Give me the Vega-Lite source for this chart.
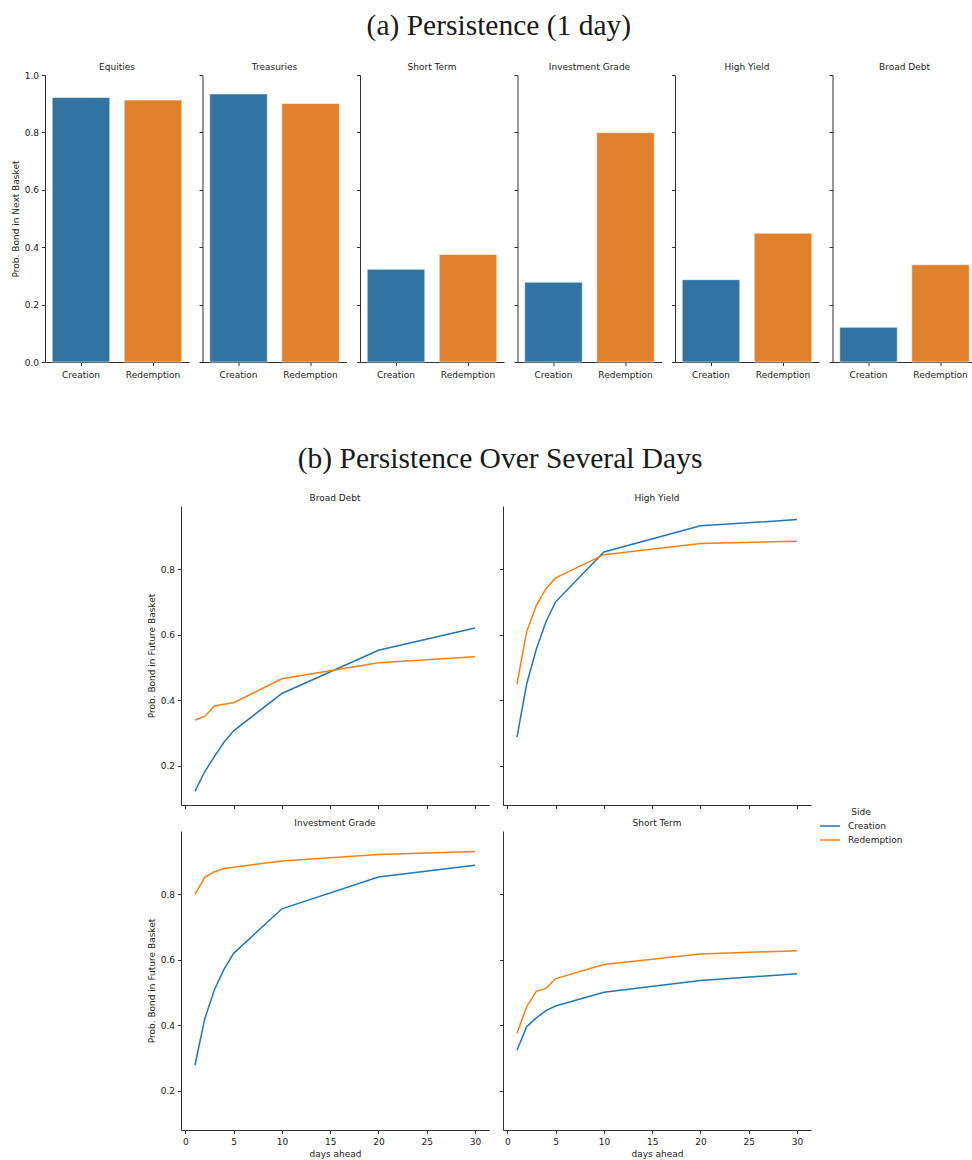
{
  "$schema": "https://vega.github.io/schema/vega-lite/v6.json",
  "padding": {"left": 11, "top": 11, "right": 0, "bottom": 0},
  "background": "white",
  "datasets": {
    "bars": [
      {"Category": "Equities", "Side": "Creation", "prob": 0.922},
      {"Category": "Equities", "Side": "Redemption", "prob": 0.913},
      {"Category": "Treasuries", "Side": "Creation", "prob": 0.934},
      {"Category": "Treasuries", "Side": "Redemption", "prob": 0.901},
      {"Category": "Short Term", "Side": "Creation", "prob": 0.323},
      {"Category": "Short Term", "Side": "Redemption", "prob": 0.375},
      {"Category": "Investment Grade", "Side": "Creation", "prob": 0.278},
      {"Category": "Investment Grade", "Side": "Redemption", "prob": 0.799},
      {"Category": "High Yield", "Side": "Creation", "prob": 0.287},
      {"Category": "High Yield", "Side": "Redemption", "prob": 0.449},
      {"Category": "Broad Debt", "Side": "Creation", "prob": 0.121},
      {"Category": "Broad Debt", "Side": "Redemption", "prob": 0.339}
    ],
    "lines": [
      {"Category": "Broad Debt", "Side": "Creation", "days": 1, "prob": 0.121},
      {"Category": "Broad Debt", "Side": "Creation", "days": 2, "prob": 0.181},
      {"Category": "Broad Debt", "Side": "Creation", "days": 3, "prob": 0.227},
      {"Category": "Broad Debt", "Side": "Creation", "days": 4, "prob": 0.271},
      {"Category": "Broad Debt", "Side": "Creation", "days": 5, "prob": 0.306},
      {"Category": "Broad Debt", "Side": "Creation", "days": 10, "prob": 0.420},
      {"Category": "Broad Debt", "Side": "Creation", "days": 20, "prob": 0.552},
      {"Category": "Broad Debt", "Side": "Creation", "days": 30, "prob": 0.620},
      {"Category": "Broad Debt", "Side": "Redemption", "days": 1, "prob": 0.339},
      {"Category": "Broad Debt", "Side": "Redemption", "days": 2, "prob": 0.350},
      {"Category": "Broad Debt", "Side": "Redemption", "days": 3, "prob": 0.382},
      {"Category": "Broad Debt", "Side": "Redemption", "days": 4, "prob": 0.387},
      {"Category": "Broad Debt", "Side": "Redemption", "days": 5, "prob": 0.392},
      {"Category": "Broad Debt", "Side": "Redemption", "days": 10, "prob": 0.465},
      {"Category": "Broad Debt", "Side": "Redemption", "days": 20, "prob": 0.514},
      {"Category": "Broad Debt", "Side": "Redemption", "days": 30, "prob": 0.532},
      {"Category": "High Yield", "Side": "Creation", "days": 1, "prob": 0.287},
      {"Category": "High Yield", "Side": "Creation", "days": 2, "prob": 0.449},
      {"Category": "High Yield", "Side": "Creation", "days": 3, "prob": 0.555},
      {"Category": "High Yield", "Side": "Creation", "days": 4, "prob": 0.639},
      {"Category": "High Yield", "Side": "Creation", "days": 5, "prob": 0.700},
      {"Category": "High Yield", "Side": "Creation", "days": 10, "prob": 0.852},
      {"Category": "High Yield", "Side": "Creation", "days": 20, "prob": 0.932},
      {"Category": "High Yield", "Side": "Creation", "days": 30, "prob": 0.951},
      {"Category": "High Yield", "Side": "Redemption", "days": 1, "prob": 0.449},
      {"Category": "High Yield", "Side": "Redemption", "days": 2, "prob": 0.609},
      {"Category": "High Yield", "Side": "Redemption", "days": 3, "prob": 0.689},
      {"Category": "High Yield", "Side": "Redemption", "days": 4, "prob": 0.740},
      {"Category": "High Yield", "Side": "Redemption", "days": 5, "prob": 0.773},
      {"Category": "High Yield", "Side": "Redemption", "days": 10, "prob": 0.844},
      {"Category": "High Yield", "Side": "Redemption", "days": 20, "prob": 0.878},
      {"Category": "High Yield", "Side": "Redemption", "days": 30, "prob": 0.885},
      {"Category": "Investment Grade", "Side": "Creation", "days": 1, "prob": 0.278},
      {"Category": "Investment Grade", "Side": "Creation", "days": 2, "prob": 0.418},
      {"Category": "Investment Grade", "Side": "Creation", "days": 3, "prob": 0.507},
      {"Category": "Investment Grade", "Side": "Creation", "days": 4, "prob": 0.570},
      {"Category": "Investment Grade", "Side": "Creation", "days": 5, "prob": 0.619},
      {"Category": "Investment Grade", "Side": "Creation", "days": 10, "prob": 0.755},
      {"Category": "Investment Grade", "Side": "Creation", "days": 20, "prob": 0.852},
      {"Category": "Investment Grade", "Side": "Creation", "days": 30, "prob": 0.888},
      {"Category": "Investment Grade", "Side": "Redemption", "days": 1, "prob": 0.799},
      {"Category": "Investment Grade", "Side": "Redemption", "days": 2, "prob": 0.851},
      {"Category": "Investment Grade", "Side": "Redemption", "days": 3, "prob": 0.868},
      {"Category": "Investment Grade", "Side": "Redemption", "days": 4, "prob": 0.878},
      {"Category": "Investment Grade", "Side": "Redemption", "days": 5, "prob": 0.882},
      {"Category": "Investment Grade", "Side": "Redemption", "days": 10, "prob": 0.901},
      {"Category": "Investment Grade", "Side": "Redemption", "days": 20, "prob": 0.921},
      {"Category": "Investment Grade", "Side": "Redemption", "days": 30, "prob": 0.930},
      {"Category": "Short Term", "Side": "Creation", "days": 1, "prob": 0.323},
      {"Category": "Short Term", "Side": "Creation", "days": 2, "prob": 0.395},
      {"Category": "Short Term", "Side": "Creation", "days": 3, "prob": 0.422},
      {"Category": "Short Term", "Side": "Creation", "days": 4, "prob": 0.444},
      {"Category": "Short Term", "Side": "Creation", "days": 5, "prob": 0.458},
      {"Category": "Short Term", "Side": "Creation", "days": 10, "prob": 0.500},
      {"Category": "Short Term", "Side": "Creation", "days": 20, "prob": 0.536},
      {"Category": "Short Term", "Side": "Creation", "days": 30, "prob": 0.557},
      {"Category": "Short Term", "Side": "Redemption", "days": 1, "prob": 0.375},
      {"Category": "Short Term", "Side": "Redemption", "days": 2, "prob": 0.456},
      {"Category": "Short Term", "Side": "Redemption", "days": 3, "prob": 0.503},
      {"Category": "Short Term", "Side": "Redemption", "days": 4, "prob": 0.512},
      {"Category": "Short Term", "Side": "Redemption", "days": 5, "prob": 0.542},
      {"Category": "Short Term", "Side": "Redemption", "days": 10, "prob": 0.585},
      {"Category": "Short Term", "Side": "Redemption", "days": 20, "prob": 0.617},
      {"Category": "Short Term", "Side": "Redemption", "days": 30, "prob": 0.627}
    ]
  },
  "resolve": {"scale": {"color": "independent"}},
  "spacing": 64,
  "vconcat": [
    {
      "title": {"text": "(a) Persistence (1 day)", "font": "Liberation Serif", "fontSize": 29.5, "anchor": "middle", "offset": 20.7, "dx": 5, "frame": "bounds"},
      "spacing": 9.5,
      "hconcat": [
        {"width": 144, "height": 287, "title": {"text": "Equities", "dy": 4}, "data": {"name": "bars"}, "transform": [{"filter": "datum.Category === 'Equities'"}],
         "mark": {"type": "bar", "stroke": "white", "strokeWidth": 0.6},
         "encoding": {
           "x": {"field": "Side", "type": "nominal", "scale": {"paddingInner": 0.2, "paddingOuter": 0.1}, "axis": {"title": null, "labelAngle": 0, "labelPadding": 4.5}},
           "y": {"field": "prob", "type": "quantitative", "scale": {"domain": [0, 1], "nice": false}, "axis": {"title": "Prob. Bond in Next Basket", "values": [0, 0.2, 0.4, 0.6, 0.8, 1.0], "format": ".1f"}},
           "color": {"field": "Side", "type": "nominal", "scale": {"range": ["#3274a1", "#e1812c"]}, "legend": null}}},
        {"width": 144, "height": 287, "title": "Treasuries", "data": {"name": "bars"}, "transform": [{"filter": "datum.Category === 'Treasuries'"}],
         "mark": {"type": "bar", "stroke": "white", "strokeWidth": 0.6},
         "encoding": {
           "x": {"field": "Side", "type": "nominal", "scale": {"paddingInner": 0.2, "paddingOuter": 0.1}, "axis": {"title": null, "labelAngle": 0, "labelPadding": 4.5}},
           "y": {"field": "prob", "type": "quantitative", "scale": {"domain": [0, 1], "nice": false}, "axis": {"title": null, "labels": false, "values": [0, 0.2, 0.4, 0.6, 0.8, 1.0]}},
           "color": {"field": "Side", "type": "nominal", "scale": {"range": ["#3274a1", "#e1812c"]}, "legend": null}}},
        {"width": 144, "height": 287, "title": "Short Term", "data": {"name": "bars"}, "transform": [{"filter": "datum.Category === 'Short Term'"}],
         "mark": {"type": "bar", "stroke": "white", "strokeWidth": 0.6},
         "encoding": {
           "x": {"field": "Side", "type": "nominal", "scale": {"paddingInner": 0.2, "paddingOuter": 0.1}, "axis": {"title": null, "labelAngle": 0, "labelPadding": 4.5}},
           "y": {"field": "prob", "type": "quantitative", "scale": {"domain": [0, 1], "nice": false}, "axis": {"title": null, "labels": false, "values": [0, 0.2, 0.4, 0.6, 0.8, 1.0]}},
           "color": {"field": "Side", "type": "nominal", "scale": {"range": ["#3274a1", "#e1812c"]}, "legend": null}}},
        {"width": 144, "height": 287, "title": "Investment Grade", "data": {"name": "bars"}, "transform": [{"filter": "datum.Category === 'Investment Grade'"}],
         "mark": {"type": "bar", "stroke": "white", "strokeWidth": 0.6},
         "encoding": {
           "x": {"field": "Side", "type": "nominal", "scale": {"paddingInner": 0.2, "paddingOuter": 0.1}, "axis": {"title": null, "labelAngle": 0, "labelPadding": 4.5}},
           "y": {"field": "prob", "type": "quantitative", "scale": {"domain": [0, 1], "nice": false}, "axis": {"title": null, "labels": false, "values": [0, 0.2, 0.4, 0.6, 0.8, 1.0]}},
           "color": {"field": "Side", "type": "nominal", "scale": {"range": ["#3274a1", "#e1812c"]}, "legend": null}}},
        {"width": 144, "height": 287, "title": "High Yield", "data": {"name": "bars"}, "transform": [{"filter": "datum.Category === 'High Yield'"}],
         "mark": {"type": "bar", "stroke": "white", "strokeWidth": 0.6},
         "encoding": {
           "x": {"field": "Side", "type": "nominal", "scale": {"paddingInner": 0.2, "paddingOuter": 0.1}, "axis": {"title": null, "labelAngle": 0, "labelPadding": 4.5}},
           "y": {"field": "prob", "type": "quantitative", "scale": {"domain": [0, 1], "nice": false}, "axis": {"title": null, "labels": false, "values": [0, 0.2, 0.4, 0.6, 0.8, 1.0]}},
           "color": {"field": "Side", "type": "nominal", "scale": {"range": ["#3274a1", "#e1812c"]}, "legend": null}}},
        {"width": 144, "height": 287, "title": "Broad Debt", "data": {"name": "bars"}, "transform": [{"filter": "datum.Category === 'Broad Debt'"}],
         "mark": {"type": "bar", "stroke": "white", "strokeWidth": 0.6},
         "encoding": {
           "x": {"field": "Side", "type": "nominal", "scale": {"paddingInner": 0.2, "paddingOuter": 0.1}, "axis": {"title": null, "labelAngle": 0, "labelPadding": 4.5}},
           "y": {"field": "prob", "type": "quantitative", "scale": {"domain": [0, 1], "nice": false}, "axis": {"title": null, "labels": false, "values": [0, 0.2, 0.4, 0.6, 0.8, 1.0]}},
           "color": {"field": "Side", "type": "nominal", "scale": {"range": ["#3274a1", "#e1812c"]}, "legend": null}}}
      ]
    },
    {
      "spacing": 0,
      "hconcat": [
        {"width": 102, "height": 10, "data": {"values": []}, "mark": "point"},
        {
          "title": {"text": "(b) Persistence Over Several Days", "font": "Liberation Serif", "fontSize": 29.5, "anchor": "middle", "offset": 19.7, "dx": 21, "frame": "bounds"},
          "spacing": 10,
          "vconcat": [
            {"spacing": 10, "hconcat": [
              {"width": 308, "height": 299, "title": "Broad Debt", "data": {"name": "lines"}, "transform": [{"filter": "datum.Category === 'Broad Debt'"}],
               "mark": {"type": "line", "strokeWidth": 1.5},
               "encoding": {
                 "x": {"field": "days", "type": "quantitative", "scale": {"domain": [-0.45, 31.45], "nice": false, "zero": false}, "axis": {"title": null, "labels": false, "values": [0, 5, 10, 15, 20, 25, 30]}},
                 "y": {"field": "prob", "type": "quantitative", "scale": {"domain": [0.0795, 0.9926], "nice": false, "zero": false}, "axis": {"title": "Prob. Bond in Future Basket", "values": [0.2, 0.4, 0.6, 0.8], "format": ".1f"}},
                 "color": {"field": "Side", "type": "nominal", "scale": {"range": ["#1f77b4", "#ff7f0e"]}, "legend": {"title": "Side", "orient": "none", "legendX": 774, "legendY": 302}}}},
              {"width": 308, "height": 299, "title": "High Yield", "data": {"name": "lines"}, "transform": [{"filter": "datum.Category === 'High Yield'"}],
               "mark": {"type": "line", "strokeWidth": 1.5},
               "encoding": {
                 "x": {"field": "days", "type": "quantitative", "scale": {"domain": [-0.45, 31.45], "nice": false, "zero": false}, "axis": {"title": null, "labels": false, "values": [0, 5, 10, 15, 20, 25, 30]}},
                 "y": {"field": "prob", "type": "quantitative", "scale": {"domain": [0.0795, 0.9926], "nice": false, "zero": false}, "axis": {"title": null, "labels": false, "values": [0.2, 0.4, 0.6, 0.8]}},
                 "color": {"field": "Side", "type": "nominal", "scale": {"range": ["#1f77b4", "#ff7f0e"]}}}}
            ]},
            {"spacing": 10, "hconcat": [
              {"width": 308, "height": 299, "title": "Investment Grade", "data": {"name": "lines"}, "transform": [{"filter": "datum.Category === 'Investment Grade'"}],
               "mark": {"type": "line", "strokeWidth": 1.5},
               "encoding": {
                 "x": {"field": "days", "type": "quantitative", "scale": {"domain": [-0.45, 31.45], "nice": false, "zero": false}, "axis": {"title": "days ahead", "values": [0, 5, 10, 15, 20, 25, 30]}},
                 "y": {"field": "prob", "type": "quantitative", "scale": {"domain": [0.0795, 0.9926], "nice": false, "zero": false}, "axis": {"title": "Prob. Bond in Future Basket", "values": [0.2, 0.4, 0.6, 0.8], "format": ".1f"}},
                 "color": {"field": "Side", "type": "nominal", "scale": {"range": ["#1f77b4", "#ff7f0e"]}}}},
              {"width": 308, "height": 299, "title": "Short Term", "data": {"name": "lines"}, "transform": [{"filter": "datum.Category === 'Short Term'"}],
               "mark": {"type": "line", "strokeWidth": 1.5},
               "encoding": {
                 "x": {"field": "days", "type": "quantitative", "scale": {"domain": [-0.45, 31.45], "nice": false, "zero": false}, "axis": {"title": "days ahead", "values": [0, 5, 10, 15, 20, 25, 30]}},
                 "y": {"field": "prob", "type": "quantitative", "scale": {"domain": [0.0795, 0.9926], "nice": false, "zero": false}, "axis": {"title": null, "labels": false, "values": [0.2, 0.4, 0.6, 0.8]}},
                 "color": {"field": "Side", "type": "nominal", "scale": {"range": ["#1f77b4", "#ff7f0e"]}}}}
            ]}
          ]
        }
      ]
    }
  ],
  "config": {
    "view": {"stroke": null},
    "axis": {"domainColor": "#1a1a1a", "tickColor": "#1a1a1a", "labelColor": "#1a1a1a", "titleColor": "#1a1a1a", "labelFont": "DejaVu Sans", "titleFont": "DejaVu Sans", "labelFontSize": 9, "titleFontSize": 9, "titleFontWeight": "normal", "tickSize": 3.5, "grid": false, "domainWidth": 0.9, "tickWidth": 0.9, "labelPadding": 3, "titlePadding": 4},
    "axisX": {"labelPadding": 4, "titlePadding": 3},
    "title": {"font": "DejaVu Sans", "fontSize": 9, "fontWeight": "normal", "color": "#1a1a1a", "offset": 3, "frame": "group"},
    "legend": {"labelFont": "DejaVu Sans", "titleFont": "DejaVu Sans", "labelFontSize": 9, "titleFontSize": 9, "titleFontWeight": "normal", "titleAnchor": "middle", "titlePadding": 2, "symbolType": "stroke", "symbolSize": 400, "symbolStrokeWidth": 1.5, "labelColor": "#1a1a1a", "titleColor": "#1a1a1a", "clipHeight": 14, "rowPadding": 0, "labelOffset": 7}
  }
}
